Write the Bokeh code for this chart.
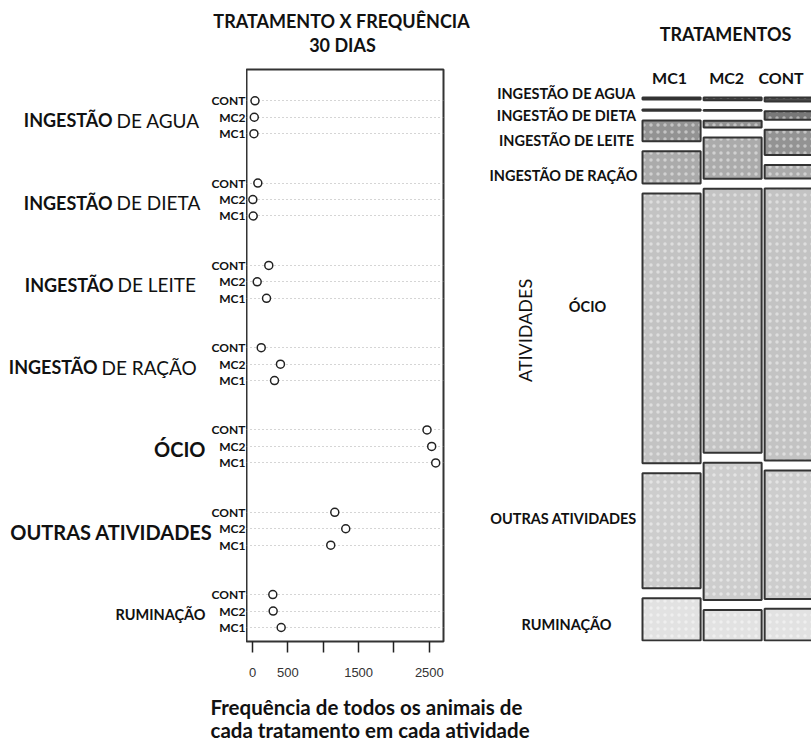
import math
from bokeh.plotting import figure
from bokeh.models import Range1d, FixedTicker, ColumnDataSource
from bokeh.core.properties import value
from bokeh.layouts import row, column
from bokeh.embed import file_html
from bokeh.resources import INLINE

# ---------------- data ----------------
activities = ["INGESTÃO DE AGUA", "INGESTÃO DE DIETA", "INGESTÃO DE LEITE",
              "INGESTÃO DE RAÇÃO", "ÓCIO", "OUTRAS ATIVIDADES", "RUMINAÇÃO"]
treatments = ["MC1", "MC2", "CONT"]
freq_mc1 = [20, 10, 198, 311, 2590, 1106, 405]
freq_mc2 = [25, 5, 66, 395, 2533, 1318, 292]
freq_cont = [35, 75, 230, 123, 2467, 1163, 287]
x_ticks = [0, 500, 1000, 1500, 2000, 2500]
x_tick_labels = ["0", "500", "", "1500", "", "2500"]
series = {"MC1": freq_mc1, "MC2": freq_mc2, "CONT": freq_cont}
title_left = ["TRATAMENTO X FREQUÊNCIA", "30 DIAS"]
title_right = "TRATAMENTOS"
x_caption = ["Frequência de todos os animais de", "cada tratamento em cada atividade"]
y_caption = "ATIVIDADES"

# ---------------- styles ----------------
FONT = "Lato"
INK = "#111111"
W = 811
TOP_H, BOT_H = 58, 58
ROW_H = 742 - TOP_H - BOT_H
TOP, BOTTOM = 11, 43                           # frame borders inside the row
BOLD_CHARS = [8, 8, 8, 8, 4, 17, 9]            # leading bold characters of left labels
BOLD_SIZE = ["18px", "18px", "18px", "18px", "20px", "20px", "14.5px"]
SPLIT_X = [112, 112, 113, 97, 205, 212, 205]   # px where bold part ends
MOSAIC_LABEL_X = [86, 86, 86, 83, 107, 83, 86]
MOSAIC_LABEL_DY = [-5, 5, 10, 8, -22, -12, 5]
COL_LABEL_DX = [-2, -6, -11]
mosaic_gray = ["#4d4d4d", "#787878", "#939393", "#ababab", "#c3c3c3", "#cdcdcd", "#e2e2e2"]

n = len(activities)
sub_pos = {"MC1": 1, "MC2": 2, "CONT": 3}


def row_of(i, t):
    return (n - 1 - i) * 5 + sub_pos[t]


xs, ys = [], []
for t in treatments:
    for i, v in enumerate(series[t]):
        xs.append(v)
        ys.append(row_of(i, t))


def blank(fig):
    fig.outline_line_color = None
    fig.grid.visible = False
    fig.background_fill_color = "white"
    fig.border_fill_color = "white"


def text_fig(width, height, xr, yr, **kw):
    f = figure(width=width, height=height, x_range=xr, y_range=yr, output_backend="svg",
               toolbar_location=None, x_axis_location=None, y_axis_location=None,
               min_border_left=0, min_border_right=0, **kw)
    blank(f)
    return f


# ---------------- dot chart ----------------
X0, X1 = -85, 2700
Y0, Y1 = 0.15, 34.9
p1 = figure(width=234, height=ROW_H, x_range=Range1d(X0, X1), y_range=Range1d(Y0, Y1),
            output_backend="svg", toolbar_location=None, y_axis_location=None,
            min_border_left=0, min_border_right=37, min_border_top=TOP, min_border_bottom=BOTTOM)
p1.outline_line_color = "#333333"
p1.outline_line_width = 2
p1.background_fill_color = "white"
p1.border_fill_color = "white"

p1.xaxis.ticker = FixedTicker(ticks=x_ticks)
p1.xaxis.major_label_overrides = dict(zip(x_ticks, x_tick_labels))
p1.xaxis.minor_tick_line_color = None
p1.xaxis.axis_line_color = None
p1.xaxis.major_tick_in = 0
p1.xaxis.major_tick_out = 11
p1.xaxis.major_tick_line_color = "#222222"
p1.xaxis.major_tick_line_width = 1.5
p1.xaxis.major_label_standoff = 15
p1.xaxis.major_label_text_font = "Liberation Sans"
p1.xaxis.major_label_text_font_size = "13px"
p1.xaxis.major_label_text_color = "#333333"
p1.xgrid.visible = False
p1.ygrid.ticker = FixedTicker(ticks=sorted(ys))
p1.ygrid.grid_line_color = "#aaaaaa"
p1.ygrid.grid_line_dash = "1 3"
p1.ygrid.grid_line_width = 1

p1.scatter(x=xs, y=ys, marker="circle", size=8, fill_color="white",
           line_color="#222222", line_width=1.5)

# labels to the left of the dot chart
lab1 = text_fig(246, ROW_H, Range1d(0, 246), p1.y_range,
                min_border_top=TOP, min_border_bottom=BOTTOM)
lab1.text(x=[245] * len(ys), y=ys, text=[t for t in treatments for _ in range(n)],
          text_align="right", text_baseline="middle", text_font=value(FONT),
          text_font_style="bold", text_font_size=value("12px"), text_color=INK)
bold = dict(x=[], y=[], text=[], size=[])
reg = dict(x=[], y=[], text=[])
for i, name in enumerate(activities):
    b = BOLD_CHARS[i]
    if name[:b].strip():
        bold["x"].append(SPLIT_X[i]); bold["y"].append(row_of(i, "MC2"))
        bold["text"].append(name[:b].strip()); bold["size"].append(BOLD_SIZE[i])
    if name[b:].strip():
        reg["x"].append(SPLIT_X[i] + 4); reg["y"].append(row_of(i, "MC2"))
        reg["text"].append(name[b:].strip())
lab1.text(x="x", y="y", text="text", source=ColumnDataSource(bold), y_offset=3,
          text_align="right", text_baseline="middle", text_font=value(FONT),
          text_font_style="bold", text_font_size="size", text_color=INK)
lab1.text(x="x", y="y", text="text", source=ColumnDataSource(reg), y_offset=3,
          text_align="left", text_baseline="middle", text_font=value(FONT),
          text_font_style="normal", text_font_size=value("19px"), text_color=INK)

# ---------------- mosaic ----------------
HGAP, VGAP = 0.017, 0.0184
col_tot = [sum(series[t]) for t in treatments]
grand = sum(col_tot)
avail_w = 1 - HGAP * (len(treatments) - 1)
avail_h = 1 - VGAP * (n - 1)
L, R, T, B, C = [], [], [], [], []
centers, mc1_centers = [], []
xcur = 0.0
for j, t in enumerate(treatments):
    w = col_tot[j] / grand * avail_w
    ycur = 1.0
    for i, v in enumerate(series[t]):
        h = v / col_tot[j] * avail_h
        L.append(xcur); R.append(xcur + w); T.append(ycur); B.append(ycur - h)
        C.append(mosaic_gray[i])
        if j == 0:
            mc1_centers.append(ycur - h / 2)
        ycur -= h + VGAP
    centers.append(xcur + w / 2)
    xcur += w + HGAP

MX0, MX1 = -0.0113, 0.9548
MY0, MY1 = -0.0018, 1.0516
p2 = text_fig(171, ROW_H, Range1d(MX0, MX1), Range1d(MY0, MY1),
              min_border_top=TOP, min_border_bottom=BOTTOM)
src = ColumnDataSource(dict(left=L, right=R, top=T, bottom=B, color=C))
p2.quad(left="left", right="right", top="top", bottom="bottom", fill_color="color",
        line_color="#333333", line_width=2, source=src,
        hatch_pattern="dot", hatch_color="white", hatch_alpha=0.45, hatch_scale=7)
p2.text(x=centers, y=[1.0] * len(centers), text=treatments, x_offset=COL_LABEL_DX,
        y_offset=-20, text_align="center", text_baseline="middle", text_font=value(FONT),
        text_font_style="bold", text_font_size=value("16px"), text_color=INK)

lab2 = text_fig(160, ROW_H, Range1d(0, 160), p2.y_range,
                min_border_top=TOP, min_border_bottom=BOTTOM)
lab2.text(x=MOSAIC_LABEL_X, y=mc1_centers, text=activities, y_offset=MOSAIC_LABEL_DY,
          text_align="center", text_baseline="middle", text_font=value(FONT),
          text_font_style="bold", text_font_size=value("14.5px"), text_color=INK)
lab2.text(x=[44], y=[mc1_centers[4]], text=[y_caption], angle=math.pi / 2, y_offset=2,
          text_align="center", text_baseline="middle", text_font=value(FONT),
          text_font_size=value("18px"), text_color=INK)

# ---------------- titles and captions ----------------
top = text_fig(W, TOP_H, Range1d(0, W), Range1d(TOP_H, 0), min_border_top=0, min_border_bottom=0)
top.text(x=[341, 342, 725], y=[20, 44, 33], text=title_left + [title_right],
         text_align="center", text_baseline="middle", text_font=value(FONT),
         text_font_style="bold", text_font_size=value("18px"), text_color=INK)

bot = text_fig(W, BOT_H, Range1d(0, W), Range1d(BOT_H, 0), min_border_top=0, min_border_bottom=0)
bot.text(x=[210, 210], y=[22, 45], text=x_caption, text_align="left", text_baseline="middle",
         text_font=value(FONT), text_font_style="bold", text_font_size=value("20.5px"),
         text_color=INK)

layout = column(top, row(lab1, p1, lab2, p2), bot)
open("out.html", "w").write(file_html(layout, INLINE))
